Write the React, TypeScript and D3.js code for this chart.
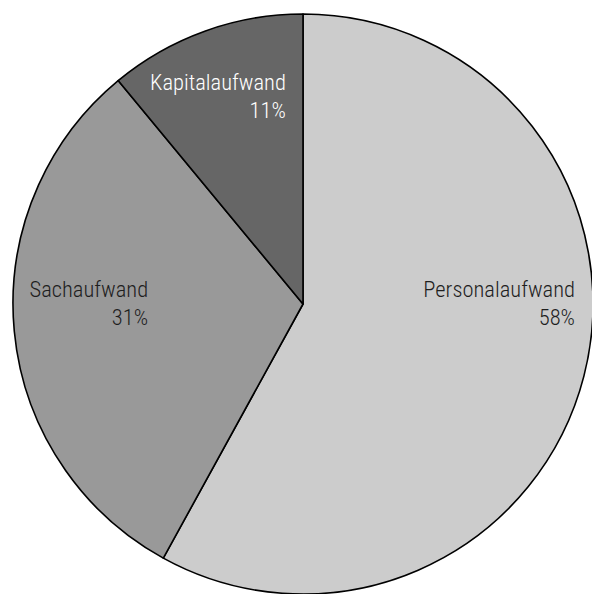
import { useMemo } from "react";
import * as d3 from "d3";

const categories = ["Personalaufwand", "Sachaufwand", "Kapitalaufwand"];
const shares = [58, 31, 11];
const percentLabels = ["58%", "31%", "11%"];
const colors = ["#cccccc", "#999999", "#666666"];
const textColors = ["#1e1e1e", "#1e1e1e", "#ffffff"];

// label anchor (right edge, first baseline) relative to centre, in radius units
const labelAnchors = [
  { x: 0.938, y: -0.024 },
  { x: -0.534, y: -0.024 },
  { x: -0.059, y: -0.738 },
];

const W = 592;
const H = 594;

export default function App() {
  const cx = 303;
  const cy = 304;
  const r = 290;

  const arcs = useMemo(() => {
    const pie = d3
      .pie<number>()
      .sort(null)
      .value((d) => d);
    return pie(shares);
  }, []);

  const arc = d3.arc<d3.PieArcDatum<number>>().innerRadius(0).outerRadius(r);

  return (
    <svg
      width={W}
      height={H}
      style={{ display: "block", position: "absolute", left: 0, top: 0, background: "#fff" }}
    >
      <g transform={`translate(${cx},${cy})`}>
        {arcs.map((a, i) => (
          <path
            key={categories[i]}
            d={arc(a) ?? ""}
            fill={colors[i]}
            stroke="#000"
            strokeWidth={1.6}
            strokeLinejoin="round"
          />
        ))}
        {arcs.map((a, i) => {
          const lx = labelAnchors[i].x * r;
          const ly = labelAnchors[i].y * r;
          return (
            <text
              key={"t" + categories[i]}
              x={lx}
              y={ly}
              textAnchor="end"
              fill={textColors[i]}
              fontFamily="'Roboto Condensed', 'Liberation Sans Narrow', Roboto, sans-serif"
              fontWeight={300}
              fontSize={22.5}
            >
              <tspan x={lx} y={ly}>{categories[i]}</tspan>
              <tspan x={lx} y={ly + 28}>{percentLabels[i]}</tspan>
            </text>
          );
        })}
      </g>
    </svg>
  );
}
